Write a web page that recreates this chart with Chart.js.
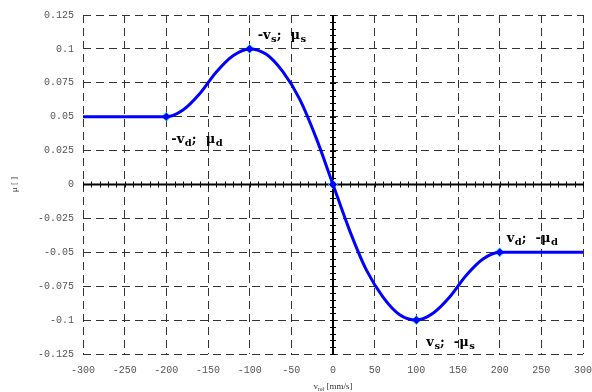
<!DOCTYPE html>
<html>
<head>
<meta charset="utf-8">
<script src="https://cdn.jsdelivr.net/npm/chart.js@4/dist/chart.umd.min.js"></script>
<style>
  html, body { margin: 0; padding: 0; background: #fff; }
  #wrap { width: 592px; height: 392px; }
</style>
</head>
<body>
<div id="wrap"><canvas id="c"></canvas></div>
<script>
// velocity [mm/s] and friction coefficient
var velocity = [-300, -280, -260, -240, -220, -200, -180, -160, -140, -120, -100, -80, -60, -40, -20, 0,
                20, 40, 60, 80, 100, 120, 140, 160, 180, 200, 220, 240, 260, 280, 300];
var mu = [0.05, 0.05, 0.05, 0.05, 0.05, 0.05, 0.055, 0.067, 0.083, 0.095, 0.1, 0.096, 0.083, 0.063, 0.034, 0,
          -0.034, -0.063, -0.083, -0.096, -0.1, -0.095, -0.083, -0.067, -0.055, -0.05, -0.05, -0.05, -0.05, -0.05, -0.05];

// marked points
var keyVel = [-200, -100, 0, 100, 200];
var keyMu = [0.05, 0.1, 0, -0.1, -0.05];

// labels next to the marked points: main text, subscript
var noteVel = [-100, -200, 200, 100];
var noteMu = [0.1, 0.05, -0.05, -0.1];
var noteParts = [
  [["-v", "s"], [";  \u03bc", "s"]],
  [["-v", "d"], [";  \u03bc", "d"]],
  [["v", "d"], [";  -\u03bc", "d"]],
  [["v", "s"], [";  -\u03bc", "s"]]
];
var noteOffset = [[8, -10], [5, 26], [7, -10], [10, 26]];

var xTicks = [-300, -250, -200, -150, -100, -50, 0, 50, 100, 150, 200, 250, 300];
var yTicks = [0.125, 0.1, 0.075, 0.05, 0.025, 0, -0.025, -0.05, -0.075, -0.1, -0.125];
var yTickLabels = ["0.125", "0.1", "0.075", "0.05", "0.025", "0", "-0.025", "-0.05", "-0.075", "-0.1", "-0.125"];

// thick zero axes with small ticks, drawn under the curve
var zeroAxes = {
  id: 'zeroAxes',
  beforeDatasetsDraw: function(chart) {
    var ctx = chart.ctx, xs = chart.scales.x, ys = chart.scales.y, a = chart.chartArea;
    var x0 = xs.getPixelForValue(0), y0 = ys.getPixelForValue(0);
    ctx.save();
    ctx.strokeStyle = '#000';
    ctx.lineWidth = 2;
    ctx.beginPath();
    ctx.moveTo(a.left, y0); ctx.lineTo(a.right, y0);
    ctx.moveTo(x0, a.top); ctx.lineTo(x0, a.bottom);
    ctx.stroke();
    ctx.lineWidth = 1;
    ctx.beginPath();
    for (var v = -300; v <= 300; v += 10) {
      var px = Math.round(xs.getPixelForValue(v)) + 0.5;
      ctx.moveTo(px, y0 - 3); ctx.lineTo(px, y0 + 3);
    }
    for (var i = -25; i <= 25; i++) {
      var py = Math.round(ys.getPixelForValue(i * 0.005)) + 0.5;
      ctx.moveTo(x0 - 3, py); ctx.lineTo(x0 + 3, py);
    }
    ctx.stroke();
    ctx.restore();
  }
};

function drawSub(ctx, parts, x, y, big, small) {
  parts.forEach(function(p) {
    ctx.font = 'bold ' + big + 'px "DejaVu Serif", serif';
    ctx.fillText(p[0], x, y);
    x += ctx.measureText(p[0]).width + 0.5;
    ctx.font = 'bold ' + small + 'px "DejaVu Serif", serif';
    ctx.fillText(p[1], x, y + 3);
    x += ctx.measureText(p[1]).width;
  });
}

var notes = {
  id: 'notes',
  afterDraw: function(chart) {
    var ctx = chart.ctx, xs = chart.scales.x, ys = chart.scales.y, a = chart.chartArea;
    ctx.save();
    ctx.fillStyle = '#000';
    ctx.textBaseline = 'alphabetic';
    ctx.textAlign = 'left';
    for (var i = 0; i < noteVel.length; i++) {
      var px = xs.getPixelForValue(noteVel[i]) + noteOffset[i][0];
      var py = ys.getPixelForValue(noteMu[i]) + noteOffset[i][1];
      drawSub(ctx, noteParts[i], px, py, 13, 10);
    }
    // x axis title
    ctx.fillStyle = '#333';
    ctx.font = '9px "Liberation Serif", serif';
    var cx = (a.left + a.right) / 2;
    var t1 = 'v', t2 = 'rel', t3 = ' [mm/s]';
    var w = ctx.measureText(t1 + t3).width;
    ctx.font = '6px "Liberation Serif", serif';
    w += ctx.measureText(t2).width;
    var x = cx - w / 2;
    ctx.font = '9px "Liberation Serif", serif';
    ctx.fillText(t1, x, 389); x += ctx.measureText(t1).width;
    ctx.font = '6px "Liberation Serif", serif';
    ctx.fillText(t2, x, 391); x += ctx.measureText(t2).width;
    ctx.font = '9px "Liberation Serif", serif';
    ctx.fillText(t3, x, 389);
    // y axis title
    ctx.translate(17, (a.top + a.bottom) / 2);
    ctx.rotate(-Math.PI / 2);
    ctx.textAlign = 'center';
    ctx.fillText('\u03bc [ ]', 0, 0);
    ctx.restore();
  }
};

var gridDash = [8, 5];

new Chart(document.getElementById('c'), {
  type: 'line',
  data: {
    datasets: [{
      data: velocity.map(function(v, i) { return { x: v, y: mu[i] }; }),
      borderColor: '#0000ff',
      borderWidth: 3,
      pointRadius: 0,
      tension: 0.4,
      cubicInterpolationMode: 'monotone',
      fill: false
    }, {
      data: keyVel.map(function(v, i) { return { x: v, y: keyMu[i] }; }),
      showLine: false,
      pointStyle: 'rectRot',
      pointRadius: 4.5,
      pointBackgroundColor: '#0000ff',
      pointBorderColor: '#33ddff',
      pointBorderWidth: 1
    }]
  },
  options: {
    responsive: true,
    maintainAspectRatio: false,
    animation: false,
    layout: { padding: { top: 15, right: 9, left: 0, bottom: 0 } },
    plugins: { legend: { display: false }, tooltip: { enabled: false } },
    scales: {
      x: {
        type: 'linear',
        min: -300, max: 300,
        afterBuildTicks: function(s) { s.ticks = xTicks.map(function(v) { return { value: v }; }); },
        afterFit: function(s) { s.height = 38; s.paddingRight = 0; s.paddingLeft = 0; },
        grid: { color: '#333', lineWidth: 1, drawTicks: false },
        border: { display: false, dash: gridDash },
        ticks: {
          padding: 10,
          color: '#555',
          font: { family: '"Liberation Mono", monospace', size: 10 },
          maxRotation: 0,
          callback: function(v) { return String(v); }
        }
      },
      y: {
        min: -0.125, max: 0.125,
        afterBuildTicks: function(s) { s.ticks = yTicks.map(function(v) { return { value: v }; }); },
        afterFit: function(s) { s.width = 83; },
        grid: { color: '#333', lineWidth: 1, drawTicks: false },
        border: { display: false, dash: gridDash },
        ticks: {
          padding: 9,
          color: '#555',
          font: { family: '"Liberation Mono", monospace', size: 10 },
          callback: function(v, i) { return yTickLabels[i]; }
        }
      }
    }
  },
  plugins: [zeroAxes, notes]
});
</script>
</body>
</html>
